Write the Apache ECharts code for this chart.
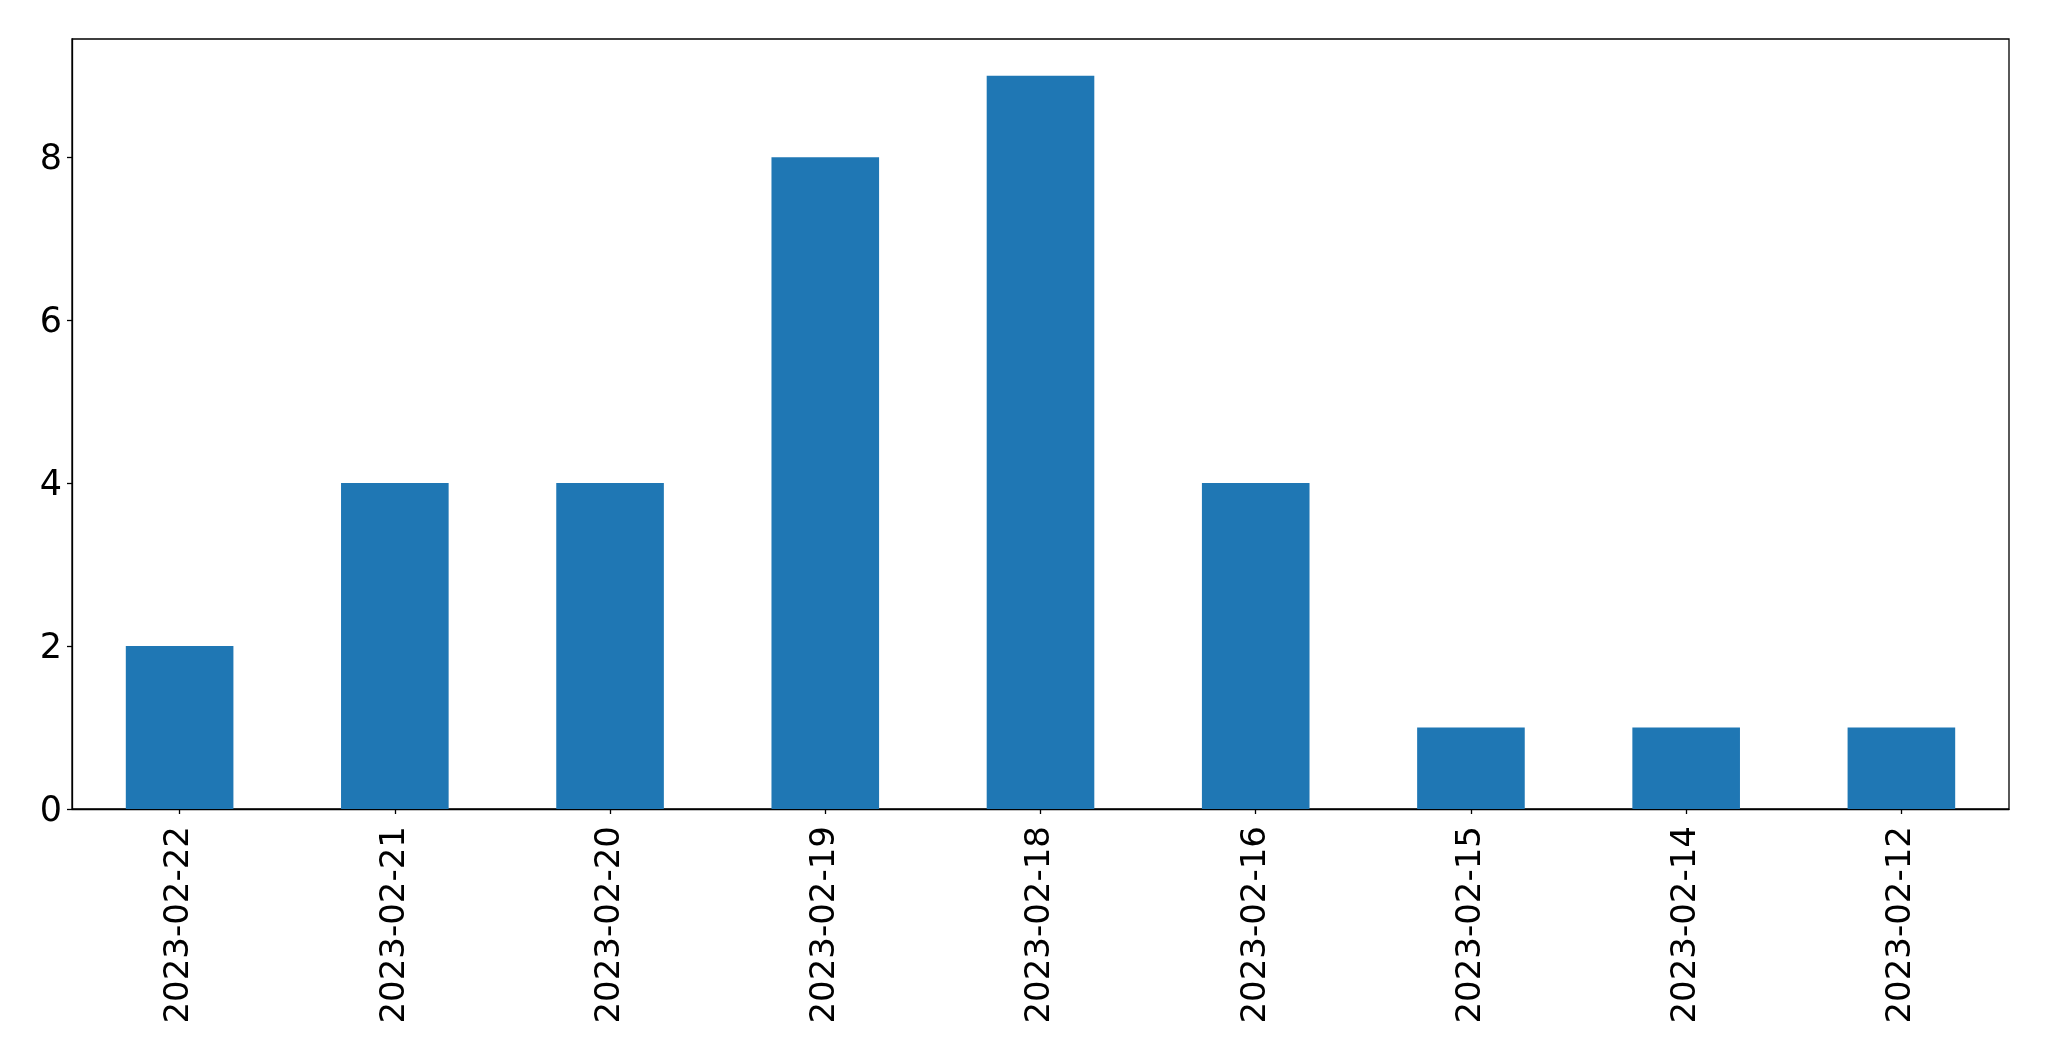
<!DOCTYPE html>
<html>
<head>
<meta charset="utf-8">
<script src="https://cdn.jsdelivr.net/npm/echarts@6/dist/echarts.min.js"></script>
<style>html,body{margin:0;padding:0;background:#fff;}#chart{width:2049px;height:1061px;}</style>
</head>
<body>
<div id="chart"></div>
<script>
const categories = ['2023-02-22','2023-02-21','2023-02-20','2023-02-19','2023-02-18','2023-02-16','2023-02-15','2023-02-14','2023-02-12'];
const values = [2, 4, 4, 8, 9, 4, 1, 1, 1];
const yTicks = [0, 2, 4, 6, 8];

const chart = echarts.init(document.getElementById('chart'), null, {renderer: 'canvas'});
const font = 'DejaVu Sans';
chart.setOption({
  animation: false,
  backgroundColor: '#fff',
  grid: {left: 72, right: 40, top: 39, bottom: 252, show: true, borderColor: '#000', borderWidth: 1.3, backgroundColor: 'transparent'},
  xAxis: {
    type: 'category',
    data: categories,
    boundaryGap: true,
    axisLine: {show: true, lineStyle: {color: '#000', width: 1.3}},
    axisTick: {show: true, alignWithLabel: true, length: 5, lineStyle: {color: '#000', width: 1.3}},
    axisLabel: {rotate: 90, margin: 17, fontSize: 34, color: '#000', fontFamily: font, interval: 0},
    splitLine: {show: false}
  },
  yAxis: {
    type: 'value',
    min: 0,
    max: 9.45,
    interval: 2,
    axisLine: {show: true, lineStyle: {color: '#000', width: 1.3}},
    axisTick: {show: true, length: 5, customValues: yTicks, lineStyle: {color: '#000', width: 1.3}},
    axisLabel: {margin: 10, color: '#000', customValues: yTicks,
      formatter: v => '{a|' + v + '}',
      rich: {a: {fontSize: 35, fontFamily: font, color: '#000', padding: [6, 0, 0, 0]}}},
    splitLine: {show: false}
  },
  series: [{
    type: 'bar',
    data: values,
    barWidth: '50%',
    itemStyle: {color: '#1f77b4'}
  }]
});
</script>
</body>
</html>
